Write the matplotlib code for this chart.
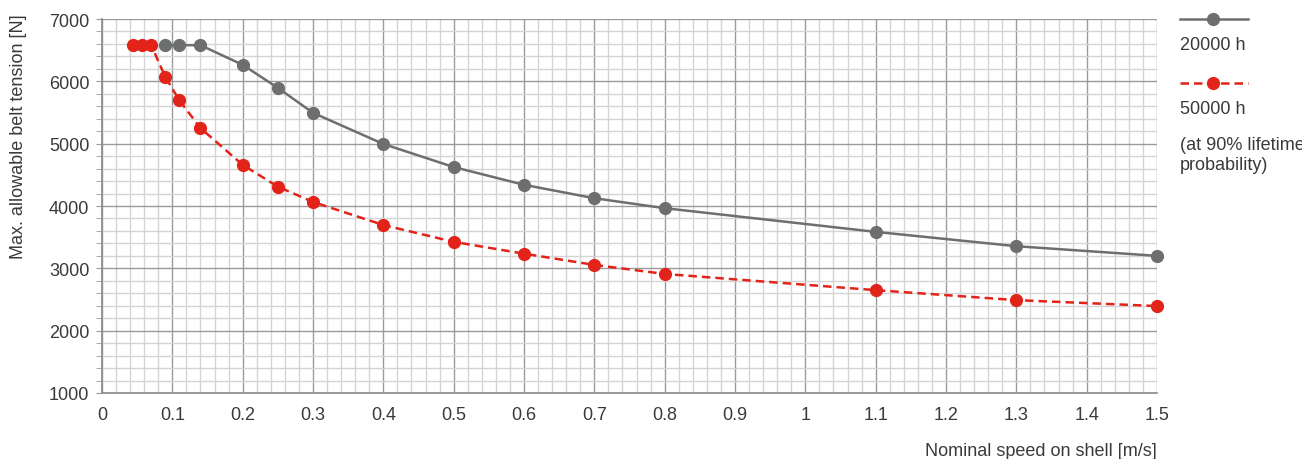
import matplotlib
matplotlib.use("Agg")
from matplotlib import pyplot as plt
from matplotlib.lines import Line2D
from matplotlib.ticker import MultipleLocator
import numpy as np

plt.rcParams['font.family'] = ['Liberation Sans', 'DejaVu Sans']

# 20000 h curve
speed_20k = [0.09, 0.11, 0.14, 0.2, 0.25, 0.3, 0.4, 0.5, 0.6, 0.7, 0.8, 1.1, 1.3, 1.5]
tension_20k = [6580, 6580, 6580, 6265, 5895, 5495, 4995, 4625, 4340, 4125, 3965, 3585, 3355, 3200]

# 50000 h curve
speed_50k = [0.044, 0.057, 0.07, 0.09, 0.11, 0.14, 0.2, 0.25, 0.3, 0.4, 0.5, 0.6, 0.7, 0.8, 1.1, 1.3, 1.5]
tension_50k = [6580, 6580, 6580, 6070, 5695, 5250, 4660, 4310, 4065, 3695, 3425, 3235, 3055, 2910, 2650, 2490, 2395]

x_ticks = [0, 0.1, 0.2, 0.3, 0.4, 0.5, 0.6, 0.7, 0.8, 0.9, 1, 1.1, 1.2, 1.3, 1.4, 1.5]
x_tick_labels = ['0', '0.1', '0.2', '0.3', '0.4', '0.5', '0.6', '0.7', '0.8', '0.9', '1',
                 '1.1', '1.2', '1.3', '1.4', '1.5']
y_ticks = [1000, 2000, 3000, 4000, 5000, 6000, 7000]

legend_labels = ['20000 h', '50000 h']
note_lines = ['(at 90% lifetime', 'probability)']

GRAY = '#6d6e70'
RED = '#e2231a'
TEXT = '#3a3a3a'
FS = 13

W, H = 1302, 460
fig = plt.figure(figsize=(W / 100, H / 100), dpi=100)
ax = fig.add_axes([102 / W, 1 - 394 / H, (1157 - 102) / W, (394 - 20) / H])

ax.set_xlim(0, 1.5)
ax.set_ylim(1000, 7000)
ax.set_xticks(x_ticks)
ax.set_xticklabels(x_tick_labels)
ax.set_yticks(y_ticks)
ax.xaxis.set_minor_locator(MultipleLocator(0.02))
ax.yaxis.set_minor_locator(MultipleLocator(200))

ax.grid(which='minor', color='#d4d4d4', linewidth=1.0, zorder=0)
ax.grid(which='major', color='#9a9a9a', linewidth=1.0, zorder=0)
ax.set_axisbelow(True)

for s in ['top', 'right']:
    ax.spines[s].set_visible(False)
for s in ['left', 'bottom']:
    ax.spines[s].set_color('#8a8a8a')
    ax.spines[s].set_linewidth(1.2)

ax.tick_params(axis='y', which='both', length=4, color='#9a9a9a', labelsize=FS,
               labelcolor=TEXT, pad=5)
ax.tick_params(axis='x', which='both', length=0, labelsize=FS, labelcolor=TEXT, pad=9)

ax.plot(speed_20k, tension_20k, color=GRAY, linewidth=1.8, marker='o', markersize=8.5,
        zorder=3, clip_on=False)
ax.plot(speed_50k, tension_50k, color=RED, linewidth=1.8, linestyle=(0, (3.4, 2.0)),
        marker='o', markersize=8.5, zorder=4, clip_on=False)

ax.set_ylabel('Max. allowable belt tension [N]', fontsize=FS, color=TEXT)
ax.yaxis.set_label_coords((27 - 102) / 1055, 1 - (137 - 20) / 374)
fig.text(1157 / W, 1 - 452 / H, 'Nominal speed on shell [m/s]', fontsize=FS, color=TEXT,
         ha='right', va='center')

# legend at right
lx0, lx1, lxm = 1180 / W, 1248 / W, 1213 / W
for yy, col, ls in [(20, GRAY, '-'), (84, RED, (0, (3.4, 2.0)))]:
    fy = 1 - yy / H
    fig.add_artist(Line2D([lx0, lx1], [fy, fy], color=col, linewidth=1.8, linestyle=ls))
    fig.add_artist(Line2D([lxm], [fy], color=col, marker='o', markersize=8.5))
for yy, t in zip([46, 110], legend_labels):
    fig.text(1180 / W, 1 - yy / H, t, fontsize=FS, color=TEXT, ha='left', va='center')
for yy, t in zip([145, 166], note_lines):
    fig.text(1180 / W, 1 - yy / H, t, fontsize=FS, color=TEXT, ha='left', va='center')

fig.savefig('out.png', dpi=100)
